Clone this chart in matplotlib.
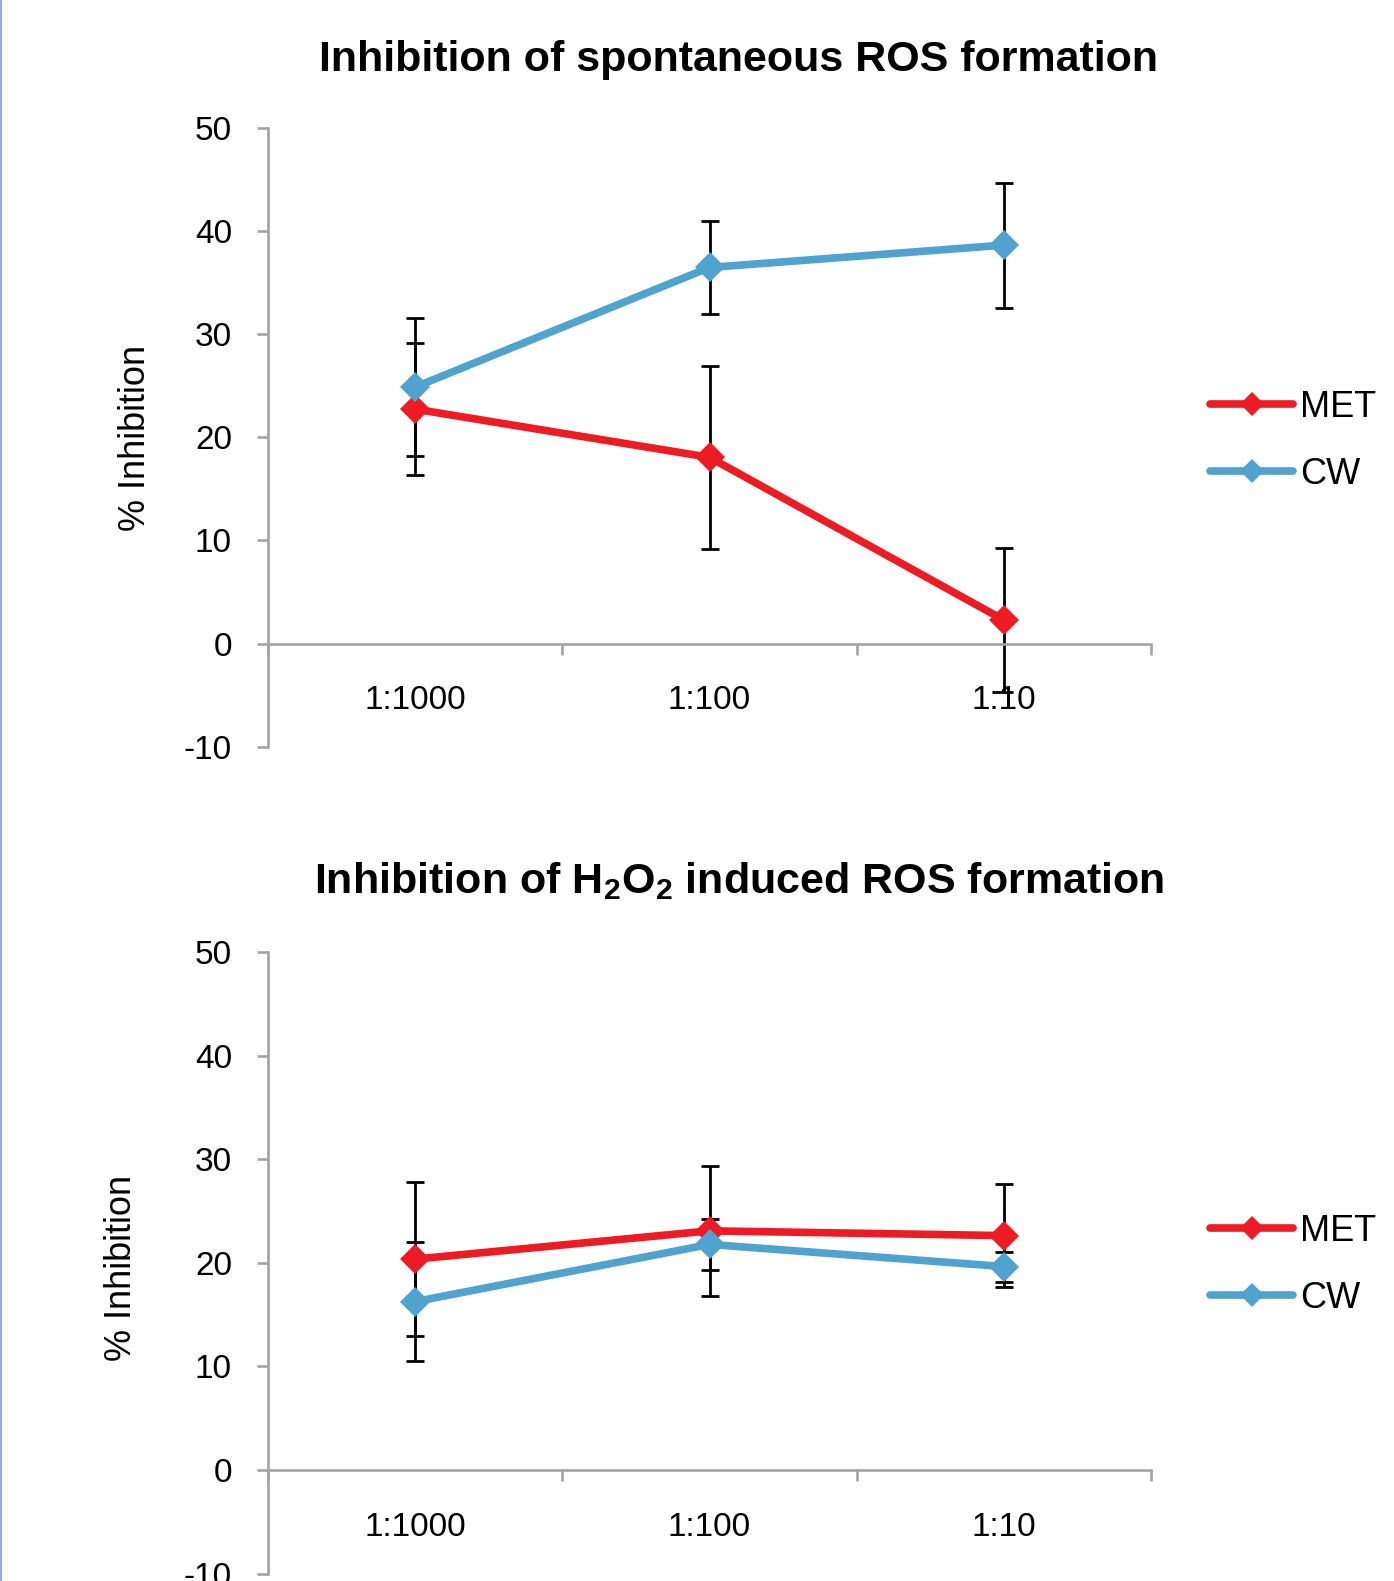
import matplotlib
matplotlib.use('Agg')
from matplotlib import pyplot as plt
from matplotlib.lines import Line2D

plt.rcParams['font.family'] = ['Liberation Sans', 'DejaVu Sans']
plt.rcParams['mathtext.fontset'] = 'custom'
plt.rcParams['mathtext.rm'] = 'Liberation Sans'
plt.rcParams['mathtext.bf'] = 'Liberation Sans:bold'
plt.rcParams['axes.unicode_minus'] = False

# data
categories = ['1:1000', '1:100', '1:10']
series_names = ['MET', 'CW']

spont_met = [22.75, 18.07, 2.28]
spont_met_err = [6.4, 8.9, 7.02]
spont_cw = [24.9, 36.5, 38.67]
spont_cw_err = [6.7, 4.55, 6.07]

h2o2_met = [20.35, 23.08, 22.62]
h2o2_met_err = [7.45, 6.26, 4.98]
h2o2_cw = [16.25, 21.77, 19.63]
h2o2_cw_err = [5.75, 2.47, 1.45]

y_ticks = [-10, 0, 10, 20, 30, 40, 50]

titles = ['Inhibition of spontaneous ROS formation',
          r'Inhibition of H$_\mathbf{2}$O$_\mathbf{2}$ induced ROS formation']

colors = {'MET': '#ED1C24', 'CW': '#4FA3CE'}
spine_color = '#A3A3A3'


def draw_panel(ax, met, met_err, cw, cw_err):
    x = [i + 0.5 for i in range(len(categories))]
    for name, vals, errs in [('MET', met, met_err), ('CW', cw, cw_err)]:
        # error bars sit under the lines
        ax.errorbar(x, vals, yerr=errs, fmt='none', ecolor='black',
                    elinewidth=2, capsize=6.5, capthick=2, zorder=2)
        ax.plot(x, vals, color=colors[name], lw=5.5, marker='D',
                markersize=15, markeredgewidth=0, label=name,
                solid_capstyle='round', zorder=3)

    ax.set_xlim(0, len(categories))
    ax.set_ylim(-10, 50)
    ax.set_yticks(y_ticks)
    ax.spines['top'].set_visible(False)
    ax.spines['right'].set_visible(False)
    ax.spines['bottom'].set_position(('data', 0))
    for s in ['left', 'bottom']:
        ax.spines[s].set_color(spine_color)
        ax.spines[s].set_linewidth(1.9)

    # tick marks at the category borders, labels in the middle
    ax.set_xticks(range(len(categories) + 1))
    ax.set_xticklabels([])
    ax.set_xticks(x, minor=True)
    ax.set_xticklabels(categories, minor=True)
    ax.tick_params(axis='x', which='major', direction='out', length=8,
                   width=1.9, color=spine_color)
    ax.tick_params(axis='x', which='minor', length=0, pad=30, labelsize=24)
    ax.tick_params(axis='y', direction='out', length=8, width=1.9,
                   color=spine_color, pad=18, labelsize=24)
    ax.set_ylabel('% Inhibition', fontsize=26)


fig = plt.figure(figsize=(13.94, 15.81), dpi=100)

ax1 = fig.add_axes([0.1923, 0.5278, 0.6334, 0.391])
draw_panel(ax1, spont_met, spont_met_err, spont_cw, spont_cw_err)
ax1.yaxis.set_label_coords(-0.130, 0.5)

ax2 = fig.add_axes([0.1923, 0.0047, 0.6334, 0.3932])
draw_panel(ax2, h2o2_met, h2o2_met_err, h2o2_cw, h2o2_cw_err)
ax2.yaxis.set_label_coords(-0.146, 0.492)

fig.text(0.530, 0.9549, titles[0], ha='center', va='baseline',
         fontsize=31, fontweight='bold')
fig.text(0.530, 0.435, titles[1], ha='center', va='baseline',
         fontsize=31, fontweight='bold')

for ax, yc in [(ax1, 0.7213), (ax2, 0.1999)]:
    fig.legend(*ax.get_legend_handles_labels(), loc='center left',
               bbox_to_anchor=(0.868, yc), frameon=False, fontsize=26,
               handlelength=2.3, handletextpad=0.2, labelspacing=0.88,
               borderpad=0, borderaxespad=0, markerscale=0.8)

# thin blue border on the left edge of the page
fig.add_artist(Line2D([0.0008, 0.0008], [0, 1], transform=fig.transFigure,
                      color='#8DB3E2', lw=1.5))

plt.savefig('out.png', dpi=100)
plt.close()
